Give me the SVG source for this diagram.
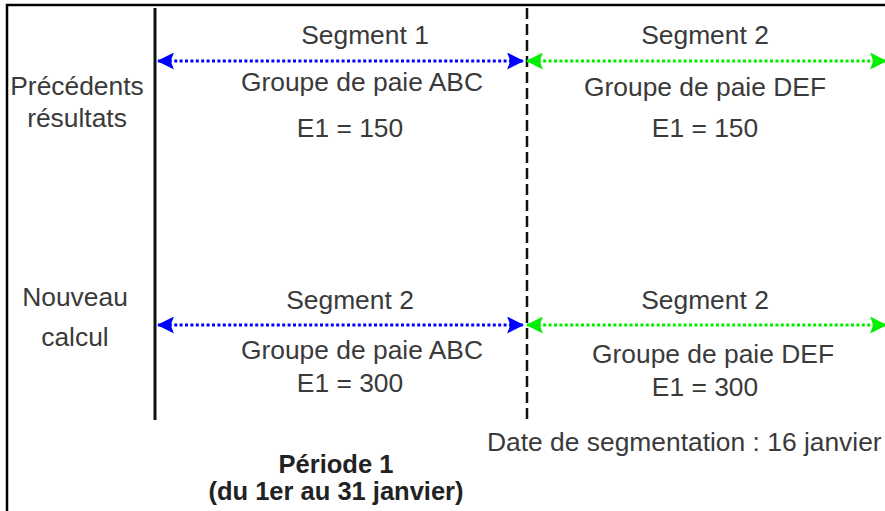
<svg xmlns="http://www.w3.org/2000/svg" width="885" height="511" viewBox="0 0 885 511">
<style>
text{font-family:"Liberation Sans",Arial,sans-serif;font-size:26.4px;fill:#3a3a3a;text-anchor:middle}
.b{font-weight:bold;font-size:25.5px;fill:#222}
.l{text-anchor:start}
.blue{stroke:#0000ff;stroke-width:3;stroke-dasharray:3 2.4;fill:none}
.green{stroke:#00ee00;stroke-width:3;stroke-dasharray:3 2.4;fill:none}
</style>
<defs>
<marker id="hb" viewBox="0 0 16 16" refX="15" refY="8" markerWidth="17" markerHeight="17" markerUnits="userSpaceOnUse" orient="auto-start-reverse"><path d="M0,0 L16,8 L0,16 L3,8 Z" fill="#0000ff"/></marker>
<marker id="hg" viewBox="0 0 16 16" refX="15" refY="8" markerWidth="17" markerHeight="17" markerUnits="userSpaceOnUse" orient="auto-start-reverse"><path d="M0,0 L16,8 L0,16 L3,8 Z" fill="#00ee00"/></marker>
</defs>
<rect width="885" height="511" fill="#fff"/>
<path d="M7,511 V5 H885" fill="none" stroke="#000" stroke-width="2.5"/>
<g id="axes">
<line x1="155" y1="8" x2="155" y2="420" stroke="#111" stroke-width="3"/>
<line x1="527" y1="8" x2="527" y2="420" stroke="#111" stroke-width="2.5" stroke-dasharray="11 5"/>
</g>
<g id="connectors">
<line class="blue" x1="158" y1="61" x2="523" y2="61" marker-start="url(#hb)" marker-end="url(#hb)"/>
<line class="green" x1="527" y1="61" x2="886" y2="61" marker-start="url(#hg)" marker-end="url(#hg)"/>
<line class="blue" x1="158" y1="325" x2="523" y2="325" marker-start="url(#hb)" marker-end="url(#hb)"/>
<line class="green" x1="527" y1="325" x2="886" y2="325" marker-start="url(#hg)" marker-end="url(#hg)"/>
</g>
<g id="row1-labels">
<text x="77" y="95">Précédents</text>
<text x="77" y="127">résultats</text>
</g>
<g id="seg1-prev">
<text x="365" y="44">Segment 1</text>
<text x="362" y="91">Groupe de paie ABC</text>
<text x="350" y="137">E1 = 150</text>
</g>
<g id="seg2-prev">
<text x="705" y="44">Segment 2</text>
<text x="705" y="96">Groupe de paie DEF</text>
<text x="705" y="137">E1 = 150</text>
</g>
<g id="row2-labels">
<text x="75" y="306">Nouveau</text>
<text x="75" y="346">calcul</text>
</g>
<g id="seg1-new">
<text x="350" y="309">Segment 2</text>
<text x="362" y="359">Groupe de paie ABC</text>
<text x="350" y="392">E1 = 300</text>
</g>
<g id="seg2-new">
<text x="705" y="309">Segment 2</text>
<text x="713" y="363">Groupe de paie DEF</text>
<text x="705" y="396">E1 = 300</text>
</g>
<g id="footer">
<text class="l" x="487" y="451">Date de segmentation : 16 janvier</text>
<text class="b" x="336" y="473">Période 1</text>
<text class="b" x="336" y="500">(du 1er au 31 janvier)</text>
</g>
</svg>
